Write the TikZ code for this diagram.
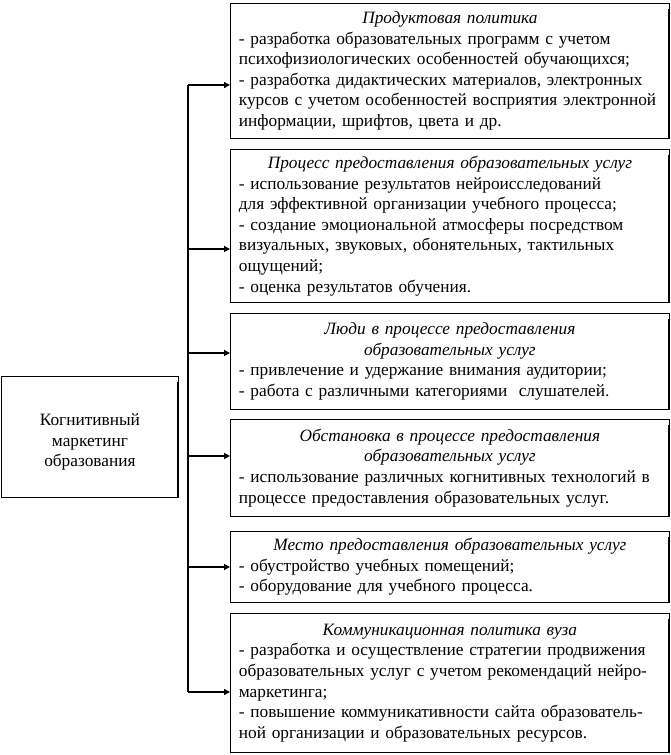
\documentclass[tikz,border=0pt]{standalone}
\usepackage{fontspec}
\setmainfont{Liberation Serif}
\usetikzlibrary{arrows.meta}
\tikzset{
  box/.style={draw, line width=0.8pt, anchor=north west, inner xsep=4.5pt, inner ysep=2pt,
    text width=430pt, align=left, font=\fontsize{17.3}{20.6}\selectfont,
    execute at begin node={\leftskip=4pt\relax}},
  conn/.style={line width=1.8pt, -{Triangle[length=6pt,width=6pt]}},
  trunk/.style={line width=1.1pt},
  edge/.style={line width=1.6pt}
}
\newcommand{\ttl}[1]{\makebox[\dimexpr\linewidth-8pt\relax]{\itshape #1}}
\newcommand{\rshadow}[1]{\draw[edge] ([shift={(-1pt,-6pt)}]#1.north east) -- ([xshift=-1pt]#1.south east);}
\begin{document}
\begin{tikzpicture}[x=1pt,y=-1pt]
\useasboundingbox (0,0) rectangle (671,755);
\node[box, minimum height=135pt] (b1) at (230,3) {\ttl{Продуктовая политика}\\
- разработка образовательных программ с учетом\\
психофизиологических особенностей обучающихся;\\
- разработка дидактических материалов, электронных\\
курсов с учетом особенностей восприятия электронной\\
информации, шрифтов, цвета и др.};
\node[box, minimum height=153pt] (b2) at (230,149) {\ttl{Процесс предоставления образовательных услуг}\\
- использование результатов нейроисследований\\
для эффективной организации учебного процесса;\\
- создание эмоциональной атмосферы посредством\\
визуальных, звуковых, обонятельных, тактильных\\
ощущений;\\
- оценка результатов обучения.};
\node[box, minimum height=96pt] (b3) at (230,313) {\ttl{Люди в процессе предоставления}\\
\ttl{образовательных услуг}\\
- привлечение и удержание внимания аудитории;\\
- работа с различными категориями\ \ слушателей.};
\node[box, minimum height=97pt] (b4) at (230,419) {\ttl{Обстановка в процессе предоставления}\\
\ttl{образовательных услуг}\\
- использование различных когнитивных технологий в\\
процессе предоставления образовательных услуг.};
\node[box, minimum height=71pt] (b5) at (230,531) {\ttl{Место предоставления образовательных услуг}\\
- обустройство учебных помещений;\\
- оборудование для учебного процесса.};
\node[box, minimum height=139pt] (b6) at (230,613) {\ttl{Коммуникационная политика вуза}\\
- разработка и осуществление стратегии продвижения\\
образовательных услуг с учетом рекомендаций нейро-\\
маркетинга;\\
- повышение коммуникативности сайта образователь-\\
ной организации и образовательных ресурсов.};
\node[draw, line width=0.8pt, anchor=north west, minimum width=177pt, minimum height=121pt,
  align=center, font=\fontsize{17.3}{20.6}\selectfont] (L) at (1,376) {\rule{0pt}{22pt}Когнитивный\\маркетинг\\образования};
\foreach \b in {b1,b2,b3,b4,b5,b6,L} {\rshadow{\b}}
\coordinate (j1) at (188,85);
\coordinate (j2) at (188,249);
\coordinate (j3) at (188,353);
\coordinate (j4) at (188,456);
\coordinate (j5) at (188,567);
\coordinate (j6) at (188,692);
\draw[trunk] (j1) -- (j6);
\draw[conn] (j1) -- (j1 -| b1.west);
\draw[conn] (j2) -- (j2 -| b2.west);
\draw[conn] (j3) -- (j3 -| b3.west);
\draw[conn] (j4) -- (j4 -| b4.west);
\draw[conn] (j5) -- (j5 -| b5.west);
\draw[conn] (j6) -- (j6 -| b6.west);
\end{tikzpicture}
\end{document}
